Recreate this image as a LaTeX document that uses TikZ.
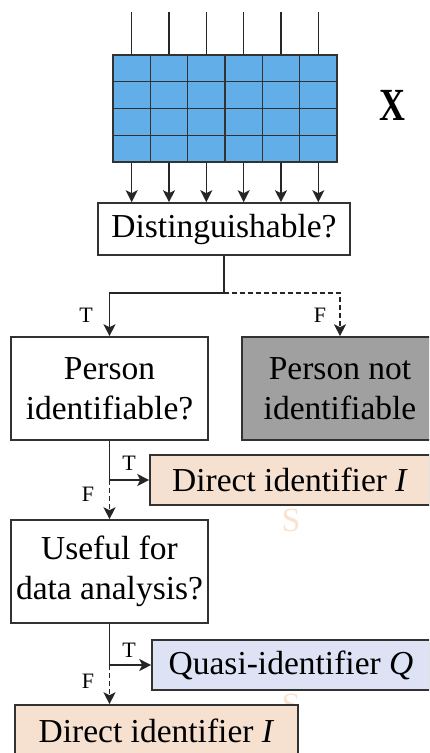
\documentclass[tikz,border=0pt]{standalone}
\usepackage{fontspec}
\setmainfont{Liberation Serif}
\usetikzlibrary{arrows.meta}
\definecolor{cellblue}{RGB}{98,174,232}
\definecolor{peach}{RGB}{246,225,209}
\definecolor{lavender}{RGB}{221,226,245}
\definecolor{greybox}{RGB}{160,160,160}
\definecolor{edge}{RGB}{50,50,50}
\definecolor{ghost}{RGB}{250,226,208}

\begin{document}
\begin{tikzpicture}[x=1pt,y=-1pt,
  flow/.style={draw=edge, line width=1.6pt, inner sep=0pt, align=center,
    font=\fontsize{33.5}{40}\selectfont},
  wire/.style={line width=1.6pt, draw=black!85},
  conn/.style={wire, -{Stealth[length=12pt,width=12pt,inset=3pt]}},
  dashconn/.style={conn, dash pattern=on 5pt off 3pt},
  tf/.style={font=\fontsize{22}{26}\selectfont, inner sep=0pt},
  ghostS/.style={font=\fontsize{34}{40}\selectfont, text=ghost, inner sep=0pt},
]
\useasboundingbox (0,0) rectangle (429,753);
\clip (0,0) rectangle (429,753);

% data matrix X
\node[draw=edge, fill=cellblue, line width=1.6pt, inner sep=0pt,
  minimum width=224pt, minimum height=107pt] (mat) at (225,108.5) {};
\foreach \i in {1,...,5}
  \draw[edge, line width=1.4pt] (113+\i*37.333,55) -- (113+\i*37.333,162);
\foreach \j in {1,2,3}
  \draw[edge, line width=1.4pt] (113,55+\j*26.75) -- (337,55+\j*26.75);
\node[font=\bfseries\fontsize{46}{50}\selectfont, xscale=0.78, inner sep=0pt] (xlab) at (392,105) {X};

% first decision
\node[flow, minimum width=252pt, minimum height=52pt] (dist) at (224,229) {Distinguishable?};

\foreach \i in {1,...,6}{
  \coordinate (top\i) at (113+\i*37.333-18.667,12);
  \draw[wire] (top\i) -- (top\i |- mat.north);
  \draw[conn] (top\i |- mat.south) -- (top\i |- dist.north);
}

% second level
\node[flow, minimum width=197pt, minimum height=103pt] (pid) at (109.5,388.5) {Person\\identifiable?};
\node[flow, fill=greybox, minimum width=196pt, minimum height=103pt] (pnot) at (340,388.5) {Person not\\identifiable};

\coordinate (split) at (224,293);
\draw[wire] (dist.south) -- (split);
\draw[conn] (split) -| (pid.north);
\draw[dashconn] (split) -| (pnot.north);
\node[tf] (t1) at (86,315) {T};
\node[tf] (f1) at (320,315) {F};

% faint marks
\node[ghostS] (s1) at (291,520) {S};
\node[ghostS] (s2) at (291,705) {S};

% direct identifier branch
\node[flow, fill=peach, minimum width=280pt, minimum height=50pt] (di1) at (290,480) {Direct identifier \textit{I}};
\node[flow, minimum width=197pt, minimum height=103pt] (useful) at (109.5,571.5) {Useful for\\data analysis?};

\coordinate (b1) at (pid.south |- di1.west);
\draw[wire] (pid.south) -- (b1);
\draw[conn] (b1) -- (di1.west);
\draw[dashconn] (b1) -- (useful.north);
\node[tf] (t2) at (129,463) {T};
\node[tf] (f2) at (88,494) {F};

% quasi-identifier branch
\node[flow, fill=lavender, minimum width=278pt, minimum height=50pt] (quasi) at (291,665) {Quasi-identifier \textit{Q}};
\node[flow, fill=peach, minimum width=283pt, minimum height=52pt] (di2) at (156.5,731) {Direct identifier \textit{I}};

\coordinate (b2) at (useful.south |- quasi.west);
\draw[wire] (useful.south) -- (b2);
\draw[conn] (b2) -- (quasi.west);
\draw[dashconn] (b2) -- (b2 |- di2.north);
\node[tf] (t3) at (129,650) {T};
\node[tf] (f3) at (88,681) {F};
\end{tikzpicture}
\end{document}
